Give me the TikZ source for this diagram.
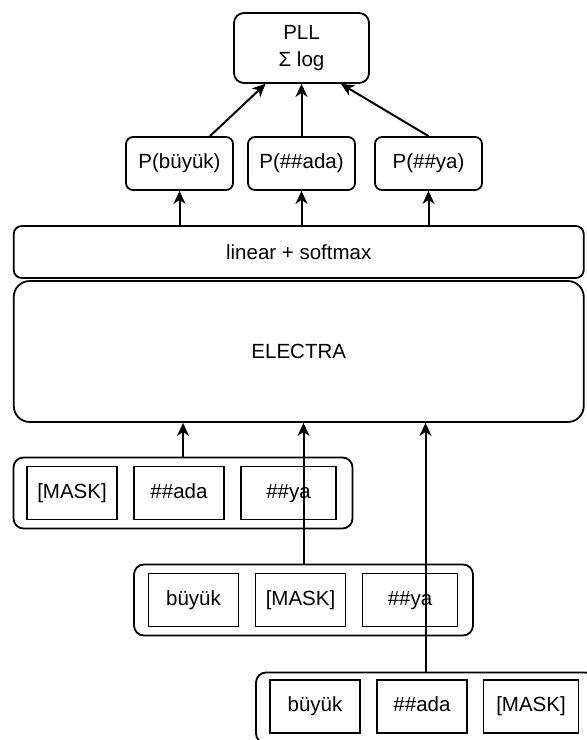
\documentclass[tikz,border=0pt]{standalone}
\usepackage{fontspec}
\setmainfont{Liberation Sans}
\usetikzlibrary{arrows.meta}

\begin{document}
\begin{tikzpicture}[
    x=1pt, y=-1pt,
    box/.style={rectangle, draw, line width=1.8pt, rounded corners=7pt, inner sep=0pt, align=center, font=\fontsize{20.5}{27}\selectfont},
    pbox/.style={box, minimum width=107pt, minimum height=53pt, text height=15pt, text depth=4.5pt},
    tok/.style={box, sharp corners, minimum width=90pt, minimum height=53pt, text height=15pt, text depth=4.5pt},
    tokwide/.style={tok, minimum width=95pt},
    group/.style={rectangle, draw, line width=1.8pt, rounded corners=10pt, minimum width=339pt, minimum height=71pt},
    arr/.style={-{Stealth[length=13pt, width=12pt, inset=4pt]}, line width=2pt},
]
\useasboundingbox (0,0) rectangle (587,740);

% Output
\node[box, rounded corners=10pt, minimum width=135pt, minimum height=70pt] (pll) at (301.5,48) {PLL\\Σ log};
\node[pbox] (pbuyuk) at (179.5,163.5) {P(büyük)};
\node[pbox] (pada) at (301.5,163.5) {P(\#\#ada)};
\node[pbox] (pya) at (428.5,163.5) {P(\#\#ya)};

% Model
\node[box, rounded corners=8pt, minimum width=570pt, minimum height=52pt] (linear) at (298.75,252) {linear + softmax};
\node[box, rounded corners=16pt, minimum width=570pt, minimum height=141pt] (electra) at (298.75,351.5) {ELECTRA};

% Masked inputs
\node[group] (g1) at (183,493) {};
\node[tok] (m1) at (72,493) {[MASK]};
\node[tok] (a1) at (179,493) {\#\#ada};
\node[tokwide] (y1) at (288.5,493) {\#\#ya};

\node[group] (g2) at (303.5,600) {};
\node[tok] (b2) at (193.5,600) {büyük};
\node[tok] (m2) at (300.5,600) {[MASK]};
\node[tokwide] (y2) at (410,600) {\#\#ya};

\node[group] (g3) at (425.5,708) {};
\node[tok] (b3) at (315,706.5) {büyük};
\node[tok] (a3) at (422,706.5) {\#\#ada};
\node[tokwide] (m3) at (531,706.5) {[MASK]};

% Arrows
\draw[arr] (g1.north) -- (g1.north |- electra.south);
\draw[arr] (g2.north) -- (g2.north |- electra.south);
\draw[arr] (g3.north) -- (g3.north |- electra.south);
\draw[arr] (pbuyuk.south |- linear.north) -- (pbuyuk.south);
\draw[arr] (pada.south |- linear.north) -- (pada.south);
\draw[arr] (pya.south |- linear.north) -- (pya.south);
\draw[arr] ([xshift=30.5pt]pbuyuk.north) -- ([xshift=-36pt]pll.south);
\draw[arr] (pada) -- (pll);
\draw[arr] (pya.north) -- ([xshift=39.5pt]pll.south);

\end{tikzpicture}
\end{document}
